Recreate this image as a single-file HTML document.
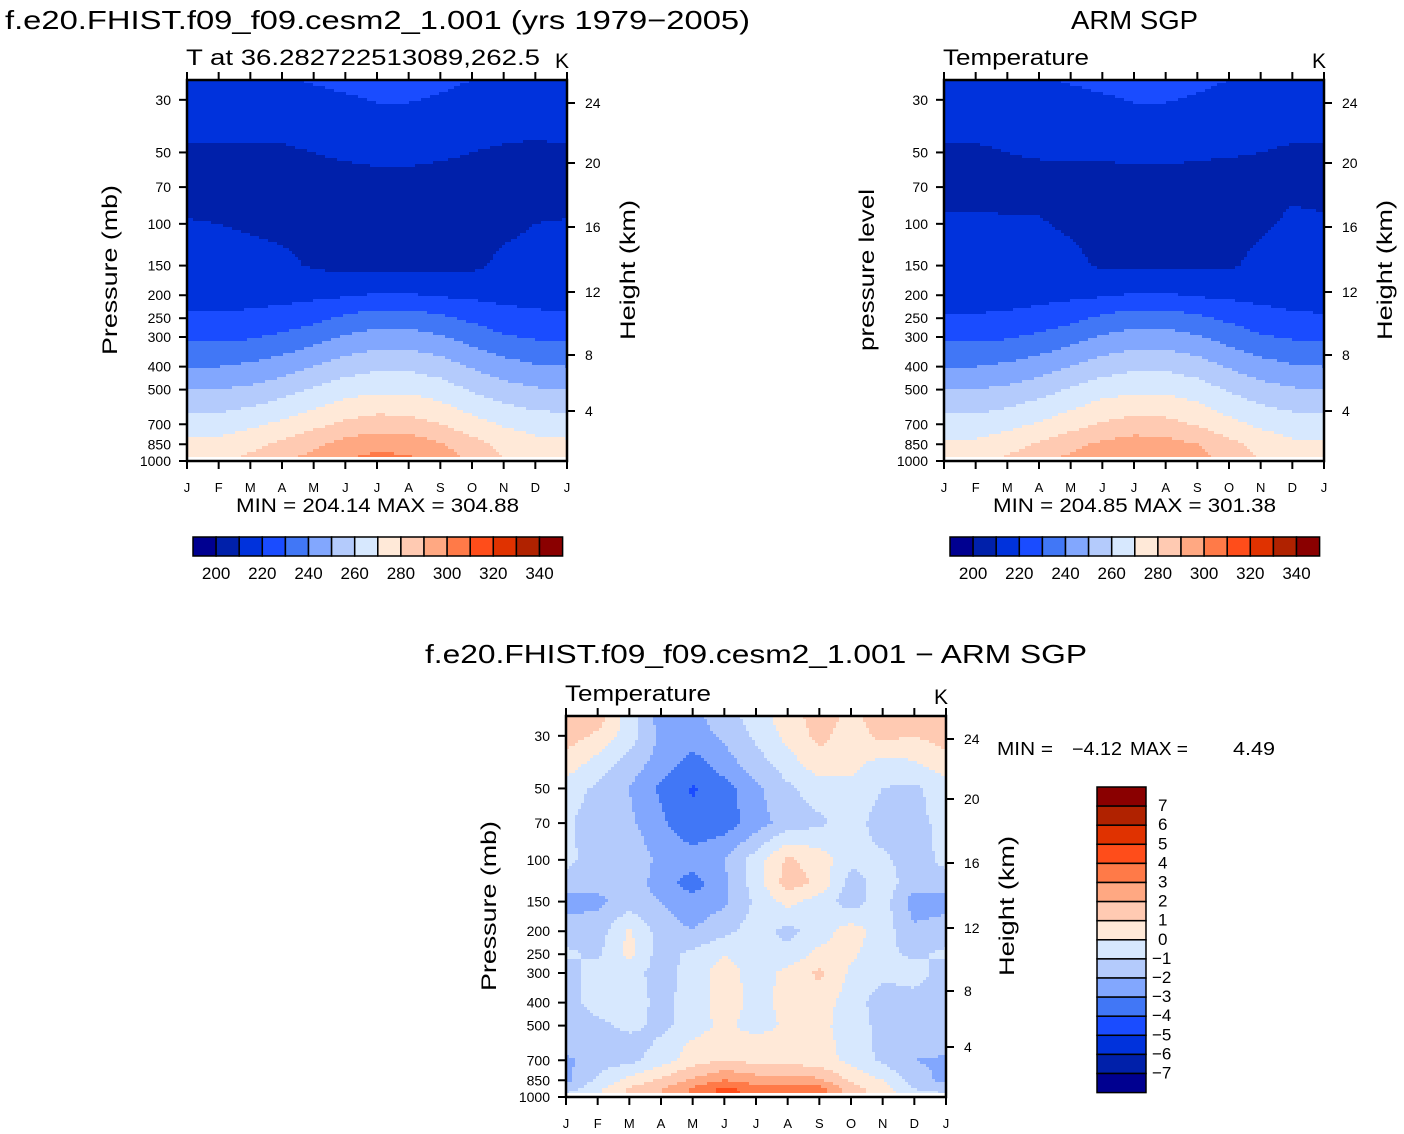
<!DOCTYPE html>
<html><head><meta charset="utf-8">
<style>
body{margin:0;background:#fff;}
svg{display:block;font-family:"Liberation Sans",Arial,sans-serif;}
text{fill:#000;}
</style></head>
<body>
<svg id="chart" width="1404" height="1134" viewBox="0 0 1404 1134" xmlns="http://www.w3.org/2000/svg"></svg>
<script>
// ---------- DATA ----------
const months = ["J","F","M","A","M","J","J","A","S","O","N","D","J"];
const topLevels = [1000,850,700,500,400,300,250,200,150,100,70,50,30,25];
const modelT = [
 [276,278,283,289,294,300,304,302,296,289,281,277],
 [272,273,277,282,288,294,297,296,291,284,277,273],
 [265,265,268,272,277,282,285,284,280,274,269,266],
 [250,250,252,256,261,266,268,268,265,259,254,251],
 [240,240,242,245,250,255,258,258,255,249,244,241],
 [228,228,229,232,236,241,244,244,241,236,231,229],
 [221,221,222,224,227,232,235,235,232,228,224,222],
 [217,217,217,217,218,219,221,221,219,218,217,217],
 [214,214,213,212,209,207,206,206,207,208,212,213],
 [210.5,210,209,208,206,205,205,205,205,206,208,210],
 [207,207,207,207,207,207,207,207,207,207,207,207],
 [209,209,209,209,210,211,212,212,211,210,209,208.5],
 [215,215,215,215,216,218.5,220.5,220.5,219,216,215,215],
 [218,218,218,218,221,223,224,224,222,220,218,218]
];
const armT = [
 [275,277,282,288,293,298,301,300,295,287,280,276],
 [271,272,276,281,287,292,295,294,290,283,276,272],
 [264,264,267,271,276,281,284,283,279,273,268,265],
 [250,250,252,256,261,266,268,268,265,259,254,251],
 [240,240,242,245,250,255,258,258,255,249,244,241],
 [228,228,229,232,236,241,244,244,241,236,231,229],
 [221,221,222,224,227,232,235,235,232,228,224,222],
 [216,216,216,217,218,219,221,221,219,218,217,216],
 [214,214,213,213,212,209,208,208,209,209,212,214],
 [211,211,210.5,210.5,209,207,206,206,206,207,209,211],
 [208,208,208.5,208,207.5,207,206,206,207,207,208,209],
 [209,209,210,210.5,211,211,212,212,211,210.5,210,209],
 [215,215,215,215,216,218.5,220.5,220.5,219,216,215,215],
 [218,218,218,218,221,223,224,224,222,220,218,218]
];
const diffLevels = [1000,925,850,700,600,500,400,300,250,200,150,125,100,70,50,40,30,25];
const diffT = [
 [-0.5,0,1,2,3,4.4,3.8,3.8,3.2,1.5,0.5,-0.5],
 [-1.5,-0.2,1.2,2,3.2,4.3,3.5,3.5,3.5,1.5,0.5,-1],
 [-2.3,-0.8,0.3,1.2,2.2,3,2.5,2.6,2.2,0.8,0,-1.5],
 [-2.2,-1.5,-1.3,-0.5,0.5,1,0.7,0.5,0.5,-0.3,-1.2,-2],
 [-1.5,-1.5,-1.5,-0.8,0.2,0.5,0.5,0.5,0.5,-0.5,-1.3,-1.5],
 [-1.5,-1.3,-0.7,-1.3,-0.5,0.3,-0.5,0.2,0.3,-0.5,-1.3,-1.5],
 [-1.5,-0.5,-0.5,-1.3,-0.6,0.5,-0.3,0.3,0.5,-0.5,-1.5,-1.5],
 [-1.5,-0.5,-0.5,-1.5,-0.5,0.5,-0.5,0.3,1.2,-0.2,-0.8,-0.5],
 [-0.8,-1.2,0.3,-1.5,-0.7,0,-0.5,-0.7,0.3,0.2,-0.7,-1.2],
 [-1.5,-1.5,0.2,-1.5,-2,-1.3,-0.5,-1.3,-0.5,0.5,-0.5,-1.8],
 [-2.4,-2.2,-1.6,-2.0,-2.6,-2.2,-0.8,0.3,-0.5,-1.5,-0.5,-2.5],
 [-1.5,-1.8,-1.3,-2.5,-3.5,-2.2,-0.5,1.5,0.8,-1.5,-0.5,-1.5],
 [-0.7,-1.5,-1.2,-2.3,-2.5,-2,-0.5,1.2,0.5,-0.7,-0.8,-1.5],
 [-0.8,-1.6,-1.8,-2.8,-3.8,-3.5,-2.5,-1.5,-1.2,-0.5,-1.5,-1.2],
 [-0.5,-1.2,-2.0,-3.2,-4.1,-3.5,-2.2,-1.2,-0.5,-0.3,-1,-1.2],
 [0.5,-0.5,-1.5,-2.5,-3.5,-2.5,-1.5,-0.5,0.5,0.3,-0.5,-0.2],
 [1.5,0.8,-0.5,-2.2,-2.5,-1.8,-0.8,0.3,1.3,0.5,1.3,1],
 [1.8,1.5,-0.5,-2.5,-2.3,-1.5,-0.5,0.5,1.5,0.7,1.5,1.2]
];
const pTicks = [30,50,70,100,150,200,250,300,400,500,700,850,1000];
const hTicks = [4,8,12,16,20,24];
const tempBarLabels = [200,220,240,260,280,300,320,340];
const diffBarLabels = [7,6,5,4,3,2,1,0,-1,-2,-3,-4,-5,-6,-7];
const palette = ["#000090","#0020aa","#0032dc","#1a4cff","#4177f6","#82a7fe","#b4cbfc","#d7e8fe",
 "#ffe9d8","#ffcab2","#ffa882","#ff7a48","#ff4d1a","#e03200","#b02200","#8a0000"];

// ---------- HELPERS ----------
const svg = document.getElementById('chart');
const NS = "http://www.w3.org/2000/svg";
function el(tag, attrs, parent){
  const e = document.createElementNS(NS, tag);
  for (const k in attrs) e.setAttribute(k, attrs[k]);
  (parent||svg).appendChild(e); return e;
}
function txt(x,y,s,size,anchor,parent,len){
  const t = el('text',{x:x,y:y,'font-size':size,'text-anchor':anchor||'start'},parent);
  if (len){ t.setAttribute('textLength',len); t.setAttribute('lengthAdjust','spacingAndGlyphs'); }
  t.textContent = s; return t;
}
const K = 103;
function yP(bottom,p){ return bottom - K*Math.log(1000/p); }
function hY(bottom,h){
  const tab={24:bottom-358,20:bottom-298,16:bottom-234,12:bottom-169,8:bottom-106,4:bottom-50};
  return tab[h];
}

function drawPanel(opt){
  const g = el('g',{});
  
  
  const L=opt.x, T=opt.y, W=380, B=opt.y+381;
  const dx = W/12;
  const levY = opt.levels.map(p=>yP(B,p));
  const fillB = B-4;
  const cg = el('g',{'shape-rendering':'crispEdges'},g);
  
  
  const step=3;
  for (let y=T; y<fillB; y+=step){
    const yc = Math.min(y+step/2, fillB);
    let k=0; while(k<levY.length-2 && levY[k+1]>yc) k++;
    let t=(levY[k]-yc)/(levY[k]-levY[k+1]); t=Math.max(0,Math.min(1,t));
    const hgt = Math.min(step, fillB-y);
    let prevC=null, runX=L;
    for (let x=L; x<=L+W+step; x+=step){
      let c=null;
      if (x<L+W){
        const m=(x+step/2-L)/dx; let i=Math.floor(m); if(i>11)i=11; const u=m-i;
        const i2=(i+1)%12;
        const r0=opt.data[k], r1=opt.data[k+1];
        const v=(1-t)*((1-u)*r0[i]+u*r0[i2])+t*((1-u)*r1[i]+u*r1[i2]);
        c=opt.bin(v);
      }
      if (c!==prevC){
        if (prevC!==null){
          const r=el('rect',{x:runX,y:y,width:Math.min(x,L+W)-runX,height:hgt,fill:palette[prevC]},cg);
          
          
        }
        prevC=c; runX=x;
      }
    }
  }
  const fr=el('rect',{x:L,y:T,width:W,height:381,fill:'none',stroke:'#000','stroke-width':2.5},g);
  
  
  months.forEach((m,i)=>{
    const x=L+i*dx;
    el('line',{x1:x,y1:T,x2:x,y2:T-8,stroke:'#000','stroke-width':2},g);
    el('line',{x1:x,y1:B,x2:x,y2:B+8,stroke:'#000','stroke-width':2},g);
    const t=txt(x,B+31,m,13,'middle',g);
    
    
  });
  pTicks.forEach(p=>{
    const y=yP(B,p);
    el('line',{x1:L,y1:y,x2:L-8,y2:y,stroke:'#000','stroke-width':2},g);
    const t=txt(L-16,y+5,String(p),14,'end',g);
    
    
  });
  hTicks.forEach(h=>{
    const y=hY(B,h);
    el('line',{x1:L+W,y1:y,x2:L+W+8,y2:y,stroke:'#000','stroke-width':2},g);
    const t=txt(L+W+18,y+5,String(h),14,'start',g);
    
    
  });
  const lt=txt(0,0,opt.ytitle,21,'middle',g,opt.ytitleLen);
  lt.setAttribute('transform',`translate(${L-70},${T+190}) rotate(-90)`);
  
  
  const rt=txt(0,0,'Height (km)',21,'middle',g,140);
  rt.setAttribute('transform',`translate(${L+W+68},${T+190}) rotate(-90)`);
  
  
  const st=txt(L-1,T-15,opt.sub,22,'start',g,opt.subLen);
  
  
  const kt=txt(L+W-5,T-12,'K',21,'middle',g);
  
  
  return {L,T,W,B};
}

function tempBin(v){ return Math.max(0,Math.min(15,Math.floor((v-190)/10))); }
function diffBin(v){ return Math.max(0,Math.min(15,Math.floor(v+8))); }

let t1=txt(5,29,'f.e20.FHIST.f09_f09.cesm2_1.001 (yrs 1979\u22122005)',26,'start',null,745);
 
let t2=txt(1071,29,'ARM SGP',26,'start',null,127);
 
let t3=txt(425,663,'f.e20.FHIST.f09_f09.cesm2_1.001 \u2212 ARM SGP',26,'start',null,662);
 

drawPanel({name:'model-panel',x:187,y:80,levels:topLevels,data:modelT,bin:tempBin,ytitle:'Pressure (mb)',ytitleLen:170,sub:'T at 36.282722513089,262.5',subLen:354});
drawPanel({name:'obs-panel',x:944,y:80,levels:topLevels,data:armT,bin:tempBin,ytitle:'pressure level',ytitleLen:162,sub:'Temperature',subLen:146});
drawPanel({name:'diff-panel',x:566,y:716,levels:diffLevels,data:diffT,bin:diffBin,ytitle:'Pressure (mb)',ytitleLen:170,sub:'Temperature',subLen:146});

let m1=txt(236,512,'MIN = 204.14 MAX = 304.88',19,'start',null,283);
 
let m2=txt(993,512,'MIN = 204.85 MAX = 301.38',19,'start',null,283);
 
let m3a=txt(997,755,'MIN =',18,'start',null,56);
 
let m3b=txt(1072,755,'\u22124.12',18,'start',null,50);
 
let m3c=txt(1130,755,'MAX =',18,'start',null,58);
 
let m3d=txt(1233,755,'4.49',18,'start',null,42);
 

function hBar(x0,name){
  const g=el('g',{});
   
  const w=23.1;
  for(let i=0;i<16;i++){
    const r=el('rect',{x:x0+i*w,y:537,width:w,height:19,fill:palette[i],stroke:'#000','stroke-width':1.5},g);
     
  }
  tempBarLabels.forEach((v)=>{
    const i=(v-190)/10;
    const t=txt(x0+i*w,579,String(v),17,'middle',g);
     
  });
}
hBar(193,'model-colorbar');
hBar(950,'obs-colorbar');
(function(){
  const g=el('g',{});
   
  const h=19.1, y0=787;
  for(let i=0;i<16;i++){
    const r=el('rect',{x:1097,y:y0+i*h,width:49,height:h,fill:palette[15-i],stroke:'#000','stroke-width':1.5},g);
     
  }
  diffBarLabels.forEach((v)=>{
    const i=7-v+1;
    const s=v<0?'\u2212'+(-v):String(v);
    const t=txt(v<0?1152:1158,y0+i*h+5,s,17,'start',g);
     
  });
})();
</script>
</body></html>
